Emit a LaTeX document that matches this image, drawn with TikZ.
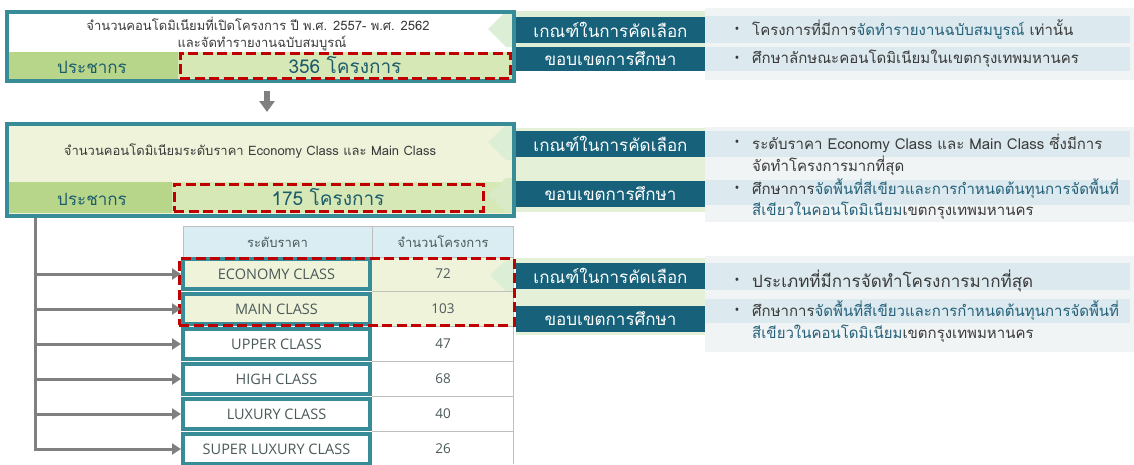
\documentclass[tikz,border=0pt]{standalone}
\usepackage{fontspec}
\setmainfont{Open Sans}
\newfontfamily\thai[Script=Thai]{Loma}
\usetikzlibrary{arrows.meta}
\definecolor{teal1}{HTML}{388C97}
\definecolor{labelc}{HTML}{17627A}
\definecolor{rowblue}{HTML}{DCE9EE}
\definecolor{panelbg}{HTML}{F1F4F5}
\definecolor{gdark}{HTML}{B8D68A}
\definecolor{glight}{HTML}{D5E8B6}
\definecolor{ybg}{HTML}{EFF3DA}
\definecolor{redd}{HTML}{C00000}
\definecolor{tealtxt}{HTML}{1D5C6B}
\definecolor{hdr}{HTML}{DAEDF2}
\definecolor{grayln}{HTML}{BFBFBF}
\definecolor{celltxt}{HTML}{4A5959}
\definecolor{arrowc}{HTML}{808080}
\definecolor{chev}{HTML}{DCEED6}
\definecolor{bodytxt}{HTML}{3A3A3A}
\definecolor{bluetxt}{HTML}{23607A}
\newcommand\thaisz[1]{\thai\fontsize{#1}{#1}\selectfont}
\tikzset{
  lbl/.style={fill=labelc, text=white, minimum width=189pt, inner sep=0pt, font=\thaisz{17}},
  frame/.style={draw=teal1, line width=4pt, inner sep=0pt},
  reddash/.style={draw=redd, line width=3pt, dash pattern=on 10pt off 4.5pt},
  body/.style={anchor=west, inner sep=0pt, text=bodytxt, font=\thaisz{15}},
  bullet/.style={inner sep=0pt, text=bodytxt, font=\fontsize{13}{13}\selectfont},
  cell/.style={frame, minimum width=187pt, minimum height=30pt, text=celltxt, font=\fontsize{14.5}{14.5}\selectfont},
  num/.style={inner sep=0pt, text=celltxt, font=\fontsize{13.5}{13.5}\selectfont},
  pop/.style={inner sep=0pt, text=tealtxt, font=\thaisz{17}},
  conn/.style={draw=arrowc, line width=3pt, -{Triangle[width=11pt,length=9pt]}},
  darr/.style={draw=arrowc, line width=6pt, -{Triangle[width=15pt,length=11pt]}},
}
\begin{document}
\begin{tikzpicture}[x=1pt,y=-1pt]
\useasboundingbox (0,0) rectangle (1134,464);
% ---------- section 1 ----------
\fill[chev] (488,29) -- (506,11) -- (705,11) -- (705,47) -- (506,47) -- cycle;
\fill[gdark] (9,52) rectangle (178,79);
\fill[glight] (178,52) rectangle (512,79);
\node[frame, minimum width=507pt, minimum height=69pt] (b1) at (260.5,46.5) {};
\node[inner sep=0pt, text=bodytxt, font=\thaisz{13}] (t1a) at (258,24) {จำนวนคอนโดมิเนียมที่เปิดโครงการ ปี พ.ศ. 2557- พ.ศ. 2562};
\node[inner sep=0pt, text=bodytxt, font=\thaisz{13}] (t1b) at (262,43) {และจัดทำรายงานฉบับสมบูรณ์};
\node[pop] (p1) at (92,67) {ประชากร};
\node[reddash, minimum width=330pt, minimum height=25pt, inner sep=0pt] (r1) at (345,65.5) {};
\node[pop, font=\thaisz{19}] (n1) at (345,65) {356 โครงการ};
% panel 1
\fill[panelbg] (705,8) rectangle (1134,80);
\fill[rowblue] (705,16) rectangle (1130,43);
\fill[rowblue] (705,47) rectangle (1130,71);
\node[lbl, minimum height=26pt] (l1a) at (610.5,30) {เกณฑ์ในการคัดเลือก};
\node[lbl, minimum height=24pt] (l1b) at (610.5,59) {ขอบเขตการศึกษา};
\node[bullet] (d1a) at (737,30) {•};
\node[body] (x1a) at (752,30) {โครงการที่มีการ{\color{bluetxt}จัดทำรายงานฉบับสมบูรณ์} เท่านั้น};
\node[bullet] (d1b) at (737,59) {•};
\node[body] (x1b) at (752,59) {ศึกษาลักษณะคอนโดมิเนียมในเขตกรุงเทพมหานคร};
% ---------- section 2 ----------
\fill[ybg] (9,126) rectangle (512,214);
\fill[chev!60!ybg] (516,128) rectangle (705,212);
\fill[chev] (488,142) -- (506,125) -- (512,125) -- (512,160) -- (506,160) -- cycle;
\fill[gdark] (9,182) rectangle (172,213);
\fill[glight] (172,182) rectangle (512,213);
\fill[chev!50!glight] (488,195) -- (506,178) -- (512,178) -- (512,212) -- (506,212) -- cycle;
\node[frame, minimum width=507pt, minimum height=92pt] (b2) at (260.5,170) {};
\draw[darr] ([xshift=6.5pt,yshift=-8pt]b1.south) -- ([xshift=6.5pt,yshift=10pt]b2.north);
\node[inner sep=0pt, text=bodytxt, font=\thaisz{13}] (t2) at (250,151) {จำนวนคอนโดมิเนียมระดับราคา Economy Class และ Main Class};
\node[pop] (p2) at (92,199) {ประชากร};
\node[reddash, minimum width=309pt, minimum height=27pt, inner sep=0pt] (r2) at (328.5,197.5) {};
\node[pop, font=\thaisz{19}] (n2) at (328,197) {175 โครงการ};
% panel 2
\fill[panelbg] (705,127) rectangle (1134,222);
\fill[rowblue] (705,131) rectangle (1130,157);
\fill[rowblue] (705,180) rectangle (1130,205);
\node[lbl, minimum height=26pt] (l2a) at (610.5,144) {เกณฑ์ในการคัดเลือก};
\node[lbl, minimum height=26pt] (l2b) at (610.5,194) {ขอบเขตการศึกษา};
\node[bullet] (d2a) at (737,143) {•};
\node[body] (x2a) at (752,143) {ระดับราคา Economy Class และ Main Class ซึ่งมีการ};
\node[body] (x2b) at (752,166) {จัดทำโครงการมากที่สุด};
\node[bullet] (d2b) at (737,189) {•};
\node[body] (x2c) at (752,189) {ศึกษาการ{\color{bluetxt}จัดพื้นที่สีเขียวและการกำหนดต้นทุนการจัดพื้นที่}};
\node[body] (x2d) at (752,211) {{\color{bluetxt}สีเขียวในคอนโดมิเนียม}เขตกรุงเทพมหานคร};
% ---------- section 3 : table ----------
\fill[chev!60!ybg] (516,258) rectangle (705,335);
\fill[ybg] (372,257) rectangle (513,326);
\fill[chev] (490,275) -- (506,260) -- (513,260) -- (513,291) -- (506,291) -- cycle;
\draw[grayln, fill=hdr, line width=0.8pt] (183,226) rectangle (513,257);
\draw[grayln, line width=0.8pt] (372,226) -- (372,257);
\draw[grayln, line width=0.8pt] (513,257) -- (513,464);
\foreach \yy in {291.5,326.5,361.5,396.5,431.5} \draw[grayln, line width=0.8pt] (372,\yy) -- (513,\yy);
\node[inner sep=0pt, text=celltxt, font=\thaisz{13}] (h1) at (277.5,242) {ระดับราคา};
\node[inner sep=0pt, text=celltxt, font=\thaisz{13}] (h2) at (443,242) {จำนวนโครงการ};
\node[cell, fill=ybg] (c1) at (276.5,274) {ECONOMY CLASS};
\node[cell, fill=ybg] (c2) at (276.5,309) {MAIN CLASS};
\node[cell, fill=white] (c3) at (276.5,344) {UPPER CLASS};
\node[cell, fill=white] (c4) at (276.5,379) {HIGH CLASS};
\node[cell, fill=white] (c5) at (276.5,414) {LUXURY CLASS};
\node[cell, fill=white] (c6) at (276.5,449) {SUPER LUXURY CLASS};
\node[num] (v1) at (443,274) {72};
\node[num] (v2) at (443,309) {103};
\node[num] (v3) at (443,344) {47};
\node[num] (v4) at (443,379) {68};
\node[num] (v5) at (443,414) {40};
\node[num] (v6) at (443,449) {26};
\node[reddash, minimum width=335pt, minimum height=67pt, inner sep=0pt] (r3) at (346.5,291.5) {};
% connectors
\coordinate (tr) at ([xshift=-225.5pt]b2.south);
\foreach \c in {c1,c2,c3,c4,c5,c6} \draw[conn] (tr) |- (\c.west);
% panel 3
\fill[panelbg] (705,256) rectangle (1134,352);
\fill[rowblue] (705,263) rectangle (1130,290);
\fill[rowblue] (705,299) rectangle (1130,323);
\node[lbl, minimum height=26pt] (l3a) at (610.5,276) {เกณฑ์ในการคัดเลือก};
\node[lbl, minimum height=26pt] (l3b) at (610.5,319) {ขอบเขตการศึกษา};
\node[bullet] (d3a) at (737,281) {•};
\node[body, font=\thaisz{17}] (x3a) at (752,281) {ประเภทที่มีการจัดทำโครงการมากที่สุด};
\node[bullet] (d3b) at (737,311) {•};
\node[body] (x3b) at (752,311) {ศึกษาการ{\color{bluetxt}จัดพื้นที่สีเขียวและการกำหนดต้นทุนการจัดพื้นที่}};
\node[body] (x3c) at (752,334) {{\color{bluetxt}สีเขียวในคอนโดมิเนียม}เขตกรุงเทพมหานคร};
\end{tikzpicture}
\end{document}
